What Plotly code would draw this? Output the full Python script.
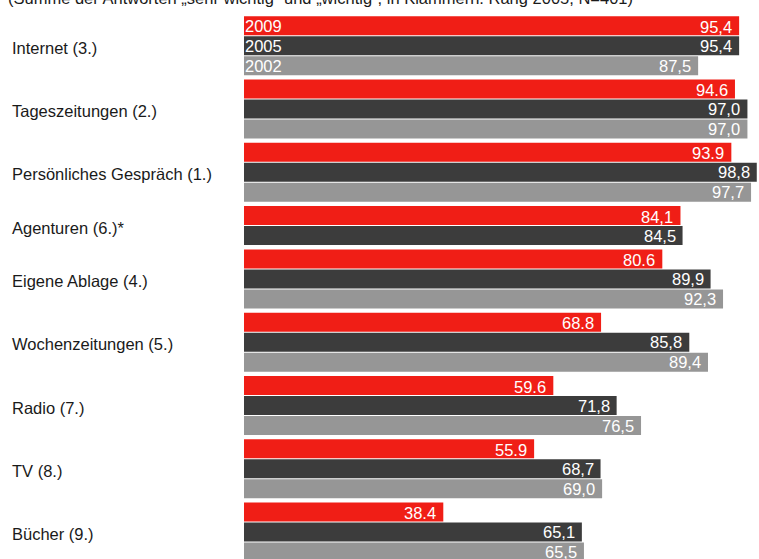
import plotly.graph_objects as go

# Media sources and their importance ratings (share of "very important" + "important")
categories = [
    "Internet (3.)",
    "Tageszeitungen (2.)",
    "Persönliches Gespräch (1.)",
    "Agenturen (6.)*",
    "Eigene Ablage (4.)",
    "Wochenzeitungen (5.)",
    "Radio (7.)",
    "TV (8.)",
    "Bücher (9.)",
]
years = ["2009", "2005", "2002"]

values_2009 = [95.4, 94.6, 93.9, 84.1, 80.6, 68.8, 59.6, 55.9, 38.4]
values_2005 = [95.4, 97.0, 98.8, 84.5, 89.9, 85.8, 71.8, 68.7, 65.1]
values_2002 = [87.5, 97.0, 97.7, None, 92.3, 89.4, 76.5, 69.0, 65.5]

labels_2009 = ["95,4", "94.6", "93.9", "84,1", "80.6", "68.8", "59.6", "55.9", "38.4"]
labels_2005 = ["95,4", "97,0", "98,8", "84,5", "89,9", "85,8", "71,8", "68,7", "65,1"]
labels_2002 = ["87,5", "97,0", "97,7", None, "92,3", "89,4", "76,5", "69,0", "65,5"]

subtitle = "(Summe der Antworten „sehr wichtig“ und „wichtig“, in Klammern: Rang 2005, N=401)"

colors = ["#f01e16", "#3c3c3c", "#969696"]

FONT = "Liberation Sans, Arial, Helvetica, sans-serif"
W, H = 759, 559
LEFT = 244
PX_PER_UNIT_X = 5.19
PX_PER_SLOT = 20.0
TOP_OFFSET_PX = 15.7
GROUP_GAP = 0.165
BAR_WIDTH = 0.95

series = [
    (years[0], values_2009, labels_2009, colors[0]),
    (years[1], values_2005, labels_2005, colors[1]),
    (years[2], values_2002, labels_2002, colors[2]),
]

# Stack bars top to bottom: one slot per available year, a small gap between groups
positions = {name: [] for name, *_ in series}
group_centers = []
cursor = 0.0
for gi in range(len(categories)):
    start = cursor
    for name, vals, _, _ in series:
        if vals[gi] is None:
            positions[name].append(None)
        else:
            positions[name].append(cursor + 0.5)
            cursor += 1
    group_centers.append((start + cursor) / 2)
    cursor += GROUP_GAP

fig = go.Figure()
annotations = []
for si, (name, vals, labs, col) in enumerate(series):
    fig.add_trace(go.Bar(
        orientation="h",
        x=vals,
        y=positions[name],
        width=BAR_WIDTH,
        marker=dict(color=col, line=dict(width=0)),
        name=name,
        hoverinfo="skip",
        showlegend=False,
    ))
    for v, p, lab in zip(vals, positions[name], labs):
        if v is None:
            continue
        annotations.append(dict(
            x=v, y=p, xref="x", yref="y", text=lab, showarrow=False,
            xanchor="right", yanchor="middle", xshift=-5,
            yshift=-1 if si == 0 else 0,
            font=dict(family=FONT, size=16.5, color="white"),
        ))
    # year captions inside the first group's bars
    annotations.append(dict(
        x=0, y=positions[name][0], xref="x", yref="y", text=name, showarrow=False,
        xanchor="left", yanchor="middle", xshift=-1,
        font=dict(family=FONT, size=16.5, color="white"),
    ))

for cat, c in zip(categories, group_centers):
    annotations.append(dict(
        x=0, y=c, xref="paper", yref="y", text=cat, showarrow=False,
        xanchor="left", yanchor="middle", xshift=-LEFT + 10, yshift=-2,
        font=dict(family=FONT, size=16.5, color="#1a1a1a"),
    ))

annotations.append(dict(
    x=0, y=1, xref="paper", yref="paper", text=subtitle, showarrow=False,
    xanchor="left", yanchor="middle", xshift=-LEFT + 6, yshift=2,
    font=dict(family=FONT, size=16.5, color="#1a1a1a"),
))

y_top = -TOP_OFFSET_PX / PX_PER_SLOT
y_bottom = y_top + H / PX_PER_SLOT

fig.update_layout(
    width=W, height=H,
    margin=dict(l=LEFT, r=0, t=0, b=0, pad=0),
    paper_bgcolor="white", plot_bgcolor="white",
    barmode="overlay",
    xaxis=dict(range=[0, (W - LEFT) / PX_PER_UNIT_X], visible=False, fixedrange=True),
    yaxis=dict(range=[y_bottom, y_top], visible=False, fixedrange=True),
    annotations=annotations,
    font=dict(family=FONT),
)

fig.write_html("out.html")
